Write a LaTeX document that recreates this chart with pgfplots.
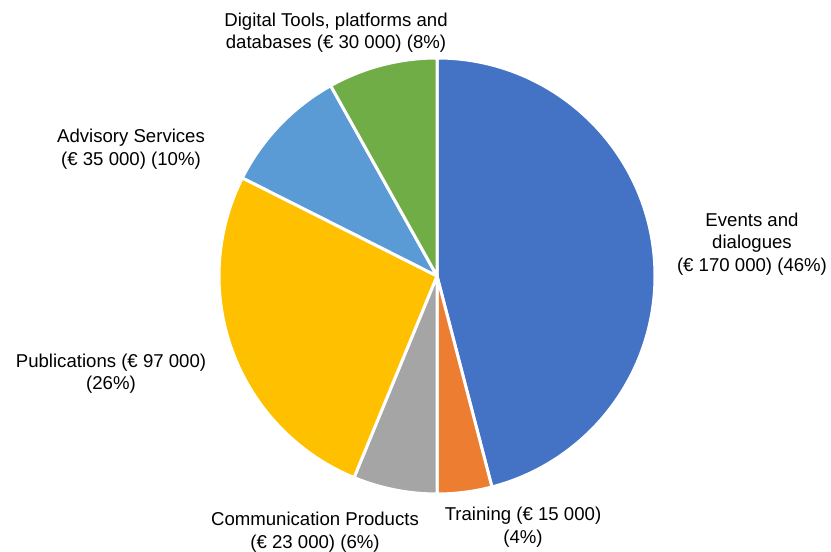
\documentclass[border=0pt]{standalone}
\usepackage{fontspec}
\setmainfont{Liberation Sans}
\usepackage{pgfplots}
\usepackage{pgfplotstable}
\pgfplotsset{compat=1.18}
\definecolor{c0}{HTML}{4472C4}
\definecolor{c1}{HTML}{ED7D31}
\definecolor{c2}{HTML}{A5A5A5}
\definecolor{c3}{HTML}{FFC000}
\definecolor{c4}{HTML}{5B9BD5}
\definecolor{c5}{HTML}{70AD47}
\tikzset{lbl/.style={font=\fontsize{18.6}{22.5}\selectfont, align=center, inner sep=0pt}}
% values in thousands of euro, clockwise from the top
\pgfplotstableread{
idx label value
0 Events 170
1 Training 15
2 Communication 23
3 Publications 97
4 Advisory 35
5 Digital 30
}\piedata
\begin{document}
\begin{tikzpicture}
% total
\gdef\total{0}
\pgfplotsforeachungrouped \i in {0,...,5}{%
  \pgfplotstablegetelem{\i}{value}\of\piedata
  \pgfmathsetmacro\t{\total+\pgfplotsretval}%
  \xdef\total{\t}%
}
\gdef\cum{0}
\pgfplotsforeachungrouped \i in {0,...,5}{%
  \pgfplotstablegetelem{\i}{value}\of\piedata
  \pgfmathsetmacro\sa{90-\cum/\total*360}%
  \pgfmathsetmacro\c{\cum+\pgfplotsretval}%
  \xdef\cum{\c}%
  \pgfmathsetmacro\ea{90-\cum/\total*360}%
  \expandafter\xdef\csname sa\i\endcsname{\sa}%
  \expandafter\xdef\csname ea\i\endcsname{\ea}%
}
\begin{axis}[hide axis, scale only axis, width=831pt, height=549pt,
  xmin=0, xmax=831, ymin=0, ymax=549, clip=false]
\path (axis cs:0,0) rectangle (axis cs:831,549);
\pgfplotsinvokeforeach{0,...,5}{
  \filldraw[fill=c#1, draw=white, line width=3pt, line join=round]
    (axis cs:437,273) -- ++(\csname sa#1\endcsname:218pt)
    arc[start angle=\csname sa#1\endcsname, end angle=\csname ea#1\endcsname, radius=218pt] -- cycle;
}
\node[lbl] at (axis cs:752,305) {Events and\\dialogues\\(€ 170 000) (46\%)};
\node[lbl] at (axis cs:523,22) {Training (€ 15 000)\\(4\%)};
\node[lbl] at (axis cs:315,17) {Communication Products\\(€ 23 000) (6\%)};
\node[lbl] at (axis cs:111,175.5) {Publications (€ 97 000)\\(26\%)};
\node[lbl] at (axis cs:131,400) {Advisory Services\\(€ 35 000) (10\%)};
\node[lbl] at (axis cs:336,516.5) {Digital Tools, platforms and\\databases (€ 30 000) (8\%)};
\end{axis}
\end{tikzpicture}
\end{document}
